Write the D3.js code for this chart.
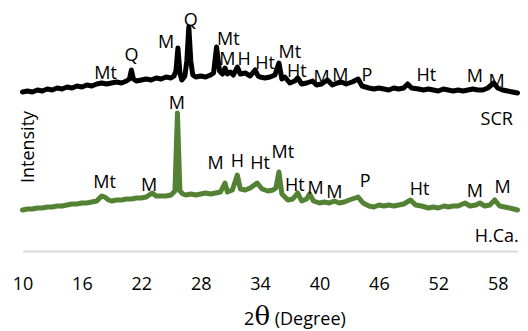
<!DOCTYPE html>
<html>
<head>
<meta charset="utf-8">
<script src="https://cdn.jsdelivr.net/npm/d3@7"></script>
<style>
  html, body { margin: 0; padding: 0; background: #fff; }
  svg { display: block; font-family: "Open Sans", "Noto Sans", sans-serif; }
</style>
</head>
<body>
<svg id="chart" width="528" height="331"></svg>
<script>
// ---- DATA ----
const xTicks = [10, 16, 22, 28, 34, 40, 46, 52, 58];

// SCR pattern: [2θ, intensity (a.u.)]
const scrData = [
  [10.0,159],[10.5,160],[11.0,159],[11.5,161],[12.0,160],[12.5,162],[13.0,161],[13.5,163],
  [14.0,162],[14.5,164],[15.0,163],[15.5,165],[16.0,164],[16.5,166],[17.0,165],[17.5,167],
  [18.0,168],[18.5,167],[19.0,168],[19.5,169],[20.0,168],[20.5,170],[20.8,172],[21.0,181],
  [21.2,172],[21.5,170],[22.0,171],[22.5,172],[23.0,171],[23.5,173],[24.0,172],[24.5,174],
  [25.0,173],[25.3,175],[25.5,180],[25.7,203],[25.9,178],[26.1,171],[26.4,175],[26.6,190],
  [26.8,224],[27.0,190],[27.2,176],[27.5,174],[28.0,175],[28.5,174],[29.0,176],[29.3,178],
  [29.6,204],[29.9,180],[30.2,177],[30.45,183],[30.7,177],[31.0,179],[31.3,176],[31.7,184],
  [32.0,177],[32.5,178],[33.0,175],[33.5,181],[33.8,175],[34.0,174],[34.5,173],[35.0,174],
  [35.5,176],[35.9,188],[36.2,172],[36.5,174],[37.0,168],[37.5,170],[37.8,173],[38.2,167],
  [38.7,168],[39.3,170],[39.7,166],[40.2,167],[40.8,171],[41.3,166],[41.8,168],[42.2,169],
  [42.7,167],[43.3,169],[43.9,172],[44.3,165],[45.0,163],[45.5,162],[46.0,163],[46.5,162],
  [47.0,161],[47.5,163],[48.0,162],[48.5,163],[48.9,167],[49.3,163],[50.0,162],[50.5,161],
  [51.0,162],[51.5,161],[52.0,160],[52.5,162],[53.0,161],[53.5,160],[54.0,161],[54.5,160],
  [55.0,161],[55.5,162],[56.0,161],[56.5,161],[57.0,163],[57.6,168],[58.0,163],[58.5,161],
  [59.0,160],[59.5,159],[60.0,158]
];

// H.Ca. pattern: [2θ, intensity (a.u.)]
const hcaData = [
  [10.0,41],[10.5,42],[11.0,42],[11.5,43],[12.0,43],[12.5,44],[13.0,44],[13.5,45],
  [14.0,45],[14.5,46],[15.0,47],[15.5,47],[16.0,48],[16.5,48],[17.0,49],[17.5,50],
  [18.0,55],[18.3,54],[18.7,51],[19.0,50],[19.5,51],[20.0,51],[20.5,52],[21.0,52],
  [21.5,53],[22.0,53],[22.5,54],[23.1,58],[23.5,55],[24.0,55],[24.5,55],[25.0,56],
  [25.4,60],[25.65,138],[25.9,60],[26.2,57],[26.5,56],[27.0,57],[27.5,56],[28.0,57],
  [28.5,58],[29.0,57],[29.5,58],[30.0,59],[30.45,68],[30.7,59],[31.2,61],[31.7,76],
  [32.0,62],[32.5,61],[33.0,63],[33.7,68],[34.2,62],[34.8,60],[35.3,61],[35.6,63],
  [35.9,79],[36.2,57],[36.8,51],[37.3,52],[37.8,58],[38.2,50],[38.7,52],[39.0,57],
  [39.4,50],[40.0,48],[40.5,49],[41.0,48],[41.5,50],[42.0,48],[42.5,49],[43.0,51],
  [43.9,54],[44.4,48],[45.0,45],[45.5,44],[46.0,46],[46.5,45],[47.0,46],[47.5,45],
  [48.0,46],[48.5,47],[49.2,51],[49.7,46],[50.3,45],[51.0,43],[51.5,44],[52.0,43],
  [52.6,45],[53.0,44],[53.5,45],[54.0,45],[54.7,48],[55.2,45],[55.8,46],[56.2,48],
  [56.7,45],[57.2,46],[57.7,51],[58.2,45],[58.7,44],[59.2,43],[59.6,42],[60.0,41]
];

// phase annotations: [text, 2θ, intensity]
const scrLabels = [
  ["Mt",18.4,178],["Q",21.0,196],["M",24.5,209],["Q",27.0,231],["Mt",30.8,212],
  ["M",30.7,192],["H",32.4,192],["Ht",34.5,188],["Mt",37.0,199],["Ht",37.7,180],
  ["M",40.2,174],["M",42.1,176],["P",44.8,176],["Ht",50.8,176],["M",55.7,175],["M",57.9,170]
];
const hcaLabels = [
  ["Mt",18.3,69],["M",22.8,66],["M",25.6,148],["M",29.5,88],["H",31.7,90],["Ht",34.0,88],
  ["Mt",36.3,99],["Ht",37.5,66],["M",39.6,63],["M",41.5,59],["P",44.6,70],["Ht",50.1,62],
  ["M",55.7,60],["M",58.5,64]
];
const seriesNames = ["SCR", "H.Ca."];

// ---- CHART ----
const svg = d3.select("#chart");
const x = d3.scaleLinear().domain([10, 60]).range([22.5, 517.5]);
const y = d3.scaleLinear().domain([0, 251]).range([251, 0]);

const line = d3.line().x(d => x(d[0])).y(d => y(d[1])).curve(d3.curveLinear);

// axis
const ax = svg.append("g").attr("transform", `translate(0,${y(0)})`)
  .call(d3.axisBottom(x).tickValues(xTicks).tickSize(0).tickPadding(26).tickFormat(d3.format("d")));
ax.select(".domain").attr("stroke", "#d9d9d9").attr("stroke-width", 2);
ax.selectAll("text").attr("font-size", 18).attr("fill", "#000")
  .attr("font-family", '"Open Sans", "Noto Sans", sans-serif');

// series
svg.append("path").datum(hcaData).attr("d", line)
  .attr("fill", "none").attr("stroke", "#548235").attr("stroke-width", 5)
  .attr("stroke-linejoin", "round").attr("stroke-linecap", "round");
svg.append("path").datum(scrData).attr("d", line)
  .attr("fill", "none").attr("stroke", "#000").attr("stroke-width", 5)
  .attr("stroke-linejoin", "round").attr("stroke-linecap", "round");

// annotations
const allLabels = scrLabels.concat(hcaLabels);
svg.append("g").selectAll("text").data(allLabels).join("text")
  .attr("x", d => x(d[1])).attr("y", d => y(d[2]))
  .attr("dy", "0.36em").attr("text-anchor", "middle")
  .attr("font-size", 18).attr("fill", "#000").text(d => d[0]);

// series names
svg.append("text").attr("x", x(57.9)).attr("y", y(132)).attr("dy", "0.36em")
  .attr("text-anchor", "middle").attr("font-size", 18).text(seriesNames[0]);
svg.append("text").attr("x", x(57.9)).attr("y", y(15)).attr("dy", "0.36em")
  .attr("text-anchor", "middle").attr("font-size", 18).text(seriesNames[1]);

// y title
svg.append("text").attr("transform", `translate(${28},${147}) rotate(-90)`)
  .attr("dy", "0.36em").attr("text-anchor", "middle").attr("font-size", 18)
  .text("Intensity");

// x title
const xt = svg.append("text").attr("x", 295).attr("y", 325).attr("text-anchor", "middle");
xt.append("tspan").attr("font-size", 18).text("2");
xt.append("tspan").attr("font-size", 26).attr("font-family", '"DejaVu Serif", serif').text("θ");
xt.append("tspan").attr("font-size", 18).text(" (Degree)");
</script>
</body>
</html>
